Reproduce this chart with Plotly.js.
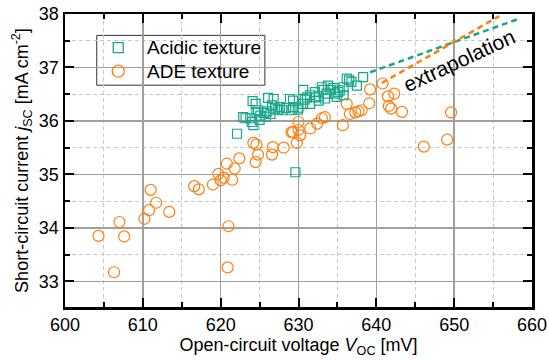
<!DOCTYPE html>
<html>
<head>
<meta charset="utf-8">
<script src="https://cdn.plot.ly/plotly-3.0.1.min.js"></script>
<style>html,body{margin:0;padding:0;background:#fff;}#chart{width:549px;height:360px;}</style>
</head>
<body>
<div id="chart"></div>
<script>
// Acidic texture (squares)
const acidicVoc = [622.1,622.9,623.2,623.8,624.0,624.2,624.1,624.5,624.6,624.8,625.1,625.0,625.6,625.8,626.0,626.1,626.4,626.6,626.8,627.0,627.4,627.6,627.9,628.4,628.9,629.3,629.1,629.3,629.9,630.0,629.6,630.6,630.8,630.6,631.1,631.5,631.5,632.1,632.1,632.6,632.6,633.0,633.2,633.4,633.6,633.8,634.1,634.5,634.7,634.9,635.1,635.3,635.8,635.8,636.2,636.5,636.8,637.5,638.3];
const acidicJsc = [35.76,36.07,36.05,36.05,35.98,35.92,36.37,36.32,36.16,36.20,36.10,36.02,36.15,36.08,36.18,36.43,36.13,36.29,36.41,36.23,36.21,36.26,36.20,36.24,36.41,36.38,36.20,36.26,36.21,36.25,35.04,36.58,36.40,36.32,36.44,36.32,36.48,36.54,36.44,36.46,36.38,36.63,36.58,36.42,36.51,36.66,36.58,36.62,36.51,36.45,36.54,36.57,36.63,36.48,36.79,36.76,36.73,36.66,36.82];
// ADE texture (circles)
const adeVoc = [604.3,606.3,607.0,607.6,610.2,611.0,610.8,611.7,613.4,616.6,617.2,619.0,619.7,620.0,620.4,620.8,621.5,621.8,621.0,620.9,622.4,624.2,624.6,624.8,624.5,626.7,626.6,628.1,629.8,629.3,629.1,630.0,630.2,630.0,631.5,632.4,633.0,633.4,635.7,636.2,636.6,637.3,637.7,638.1,639.1,639.2,640.8,641.5,642.3,641.6,641.9,643.3,649.6,646.1,649.1];
const adeJsc = [33.85,33.17,34.11,33.84,34.17,34.71,34.33,34.47,34.30,34.78,34.72,34.81,35.01,34.89,34.94,35.20,34.90,35.11,34.03,33.26,35.30,35.59,35.56,35.37,35.23,35.51,35.37,35.50,35.59,35.79,35.79,35.83,35.73,35.98,35.86,35.95,36.05,36.07,35.92,36.32,36.13,36.16,36.18,36.20,36.33,36.59,36.70,36.46,36.51,36.28,36.23,36.17,36.16,35.52,35.65];
// Extrapolation lines
const extraAcidicVoc = [639.2, 658.1];
const extraAcidicJsc = [36.91, 37.90];
const extraAdeVoc = [640.7, 655.8];
const extraAdeJsc = [36.71, 37.96];
const xTicks = [600,610,620,630,640,650,660];
const yTicks = [33,34,35,36,37,38];
const seriesNames = ['Acidic texture', 'ADE texture'];

const teal = '#17a78a';
const orange = '#ff7f0e';
const FONT = 'Liberation Sans, Arial, sans-serif';

// legend layout (paper fractions)
const legBox = {x0: 0.068, x1: 0.428, y0: 0.757, y1: 0.927};
const legSymX = 0.114, legTextX = 0.172, legRowY = [0.885, 0.805];

const traces = [
  {x: extraAcidicVoc, y: extraAcidicJsc, mode: 'lines', line: {color: teal, width: 2.5, dash: '6px,4px'}, showlegend: false, hoverinfo: 'skip'},
  {x: extraAdeVoc, y: extraAdeJsc, mode: 'lines', line: {color: orange, width: 2.5, dash: '6px,4px'}, showlegend: false, hoverinfo: 'skip'},
  {x: adeVoc, y: adeJsc, mode: 'markers', name: seriesNames[1], showlegend: false, marker: {symbol: 'circle-open', size: 11, color: orange, line: {width: 1.2}}},
  {x: acidicVoc, y: acidicJsc, mode: 'markers', name: seriesNames[0], showlegend: false, marker: {symbol: 'square-open', size: 9, color: teal, line: {width: 1.2}}},
  // legend symbols on an overlay axis spanning the plot area
  {x: [legSymX], y: [legRowY[0]], xaxis: 'x2', yaxis: 'y2', mode: 'markers', showlegend: false, hoverinfo: 'skip', marker: {symbol: 'square-open', size: 10, color: teal, line: {width: 1.3}}},
  {x: [legSymX], y: [legRowY[1]], xaxis: 'x2', yaxis: 'y2', mode: 'markers', showlegend: false, hoverinfo: 'skip', marker: {symbol: 'circle-open', size: 12, color: orange, line: {width: 1.3}}}
];

const axisCommon = {
  showline: true, linecolor: '#000', linewidth: 2.5, mirror: 'ticks',
  ticks: 'inside', ticklen: 9, tickwidth: 2, tickcolor: '#000',
  showgrid: true, gridcolor: '#a0a0a0', gridwidth: 1.5,
  zeroline: false,
  tickfont: {family: FONT, size: 18, color: '#000'}
};

const layout = {
  width: 549, height: 360,
  margin: {l: 65, r: 17, t: 14, b: 53},
  paper_bgcolor: '#fff', plot_bgcolor: '#fff',
  font: {family: FONT, color: '#000'},
  showlegend: false,
  xaxis: Object.assign({}, axisCommon, {
    range: [600, 660], tickvals: xTicks, ticktext: xTicks.map(String),
    minor: {dtick: 5, ticklen: 5, tickwidth: 2, tickcolor: '#000', ticks: 'inside', showgrid: true, gridcolor: '#c8c8c8', gridwidth: 1, griddash: '4px,3px'},
    title: {text: 'Open-circuit voltage <i>V</i><sub>OC</sub> [mV]', font: {family: FONT, size: 18, color: '#000'}, standoff: 4}
  }),
  yaxis: Object.assign({}, axisCommon, {
    range: [32.52, 38], tickvals: yTicks, ticktext: yTicks.map(String),
    minor: {dtick: 0.5, ticklen: 5, tickwidth: 2, tickcolor: '#000', ticks: 'inside', showgrid: true, gridcolor: '#c8c8c8', gridwidth: 1, griddash: '4px,3px'},
    title: {text: 'Short-circuit current <i>j</i><sub>SC</sub> [mA cm<sup>-2</sup>]', font: {family: FONT, size: 18, color: '#000'}, standoff: 6}
  }),
  xaxis2: {overlaying: 'x', range: [0, 1], visible: false, fixedrange: true},
  yaxis2: {overlaying: 'y', range: [0, 1], visible: false, fixedrange: true},
  shapes: [{
    type: 'rect', xref: 'x2', yref: 'y2', x0: legBox.x0, x1: legBox.x1, y0: legBox.y0, y1: legBox.y1,
    line: {color: '#333', width: 1}, fillcolor: '#fff', layer: 'below'
  }],
  annotations: [
    {x: 650.6, y: 37.13, xref: 'x', yref: 'y', text: 'extrapolation', showarrow: false,
     textangle: -25, font: {family: FONT, size: 21, color: '#000'}},
    {x: legTextX, y: legRowY[0], xref: 'x2', yref: 'y2', xanchor: 'left', yanchor: 'middle', showarrow: false,
     text: seriesNames[0], font: {family: FONT, size: 19, color: '#000'}},
    {x: legTextX, y: legRowY[1], xref: 'x2', yref: 'y2', xanchor: 'left', yanchor: 'middle', showarrow: false,
     text: seriesNames[1], font: {family: FONT, size: 19, color: '#000'}}
  ]
};

Plotly.newPlot('chart', traces, layout, {displayModeBar: false, staticPlot: true});
</script>
</body>
</html>
